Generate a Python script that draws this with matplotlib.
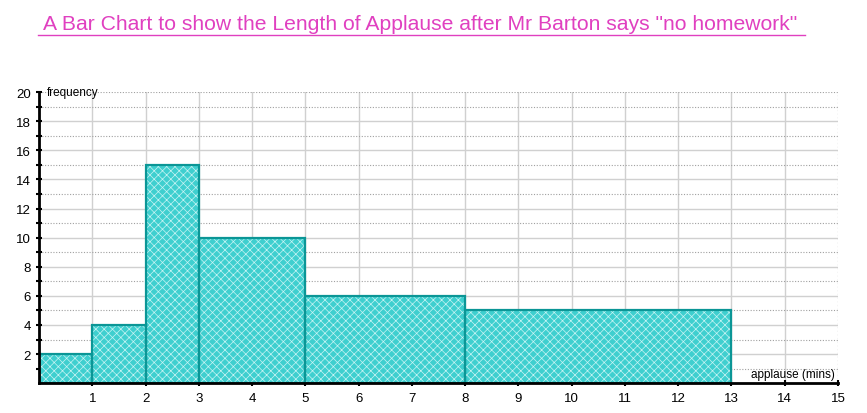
import matplotlib.pyplot as plt
from matplotlib.lines import Line2D
import matplotlib as mpl

plt.rcParams['font.family'] = ['Liberation Sans', 'DejaVu Sans']
mpl.rcParams['hatch.linewidth'] = 0.5

# class boundaries (mins) and frequency for each class
bin_edges = [0, 1, 2, 3, 5, 8, 13]
frequencies = [2, 4, 15, 10, 6, 5]
x_ticks = list(range(1, 16))
y_ticks = list(range(2, 21, 2))

title = 'A Bar Chart to show the Length of Applause after Mr Barton says "no homework"'

fig = plt.figure(figsize=(8.67, 4.14), dpi=100)
ax = fig.add_axes([0.045, 0.072, 0.9215, 0.703])

# grid: solid at whole numbers / even freq, dotted at odd freq
for x in range(1, 16):
    ax.axvline(x, color='#d0d0d0', lw=1, zorder=0,
               ls='-' if x < 15 else ':')
for y in range(1, 21):
    if y % 2 == 0 and y < 20:
        ax.axhline(y, color='#d0d0d0', lw=1, zorder=0)
    else:
        ax.axhline(y, color='#a0a0a0', lw=0.8, ls=(0, (1, 1.5)), zorder=0)

lefts = bin_edges[:-1]
widths = [b - a for a, b in zip(bin_edges[:-1], bin_edges[1:])]
# fill with a light cross pattern, then the outlines on top
ax.bar(lefts, frequencies, width=widths, align='edge', color='#3fcfcf',
       edgecolor='#c8f4f4', linewidth=0, hatch='xxxx', zorder=2)
ax.bar(lefts, frequencies, width=widths, align='edge', fill=False,
       edgecolor='#0b9696', linewidth=1.6, zorder=3)

ax.set_xlim(0, 15)
ax.set_ylim(0, 20)
ax.set_xticks(x_ticks)
ax.set_yticks(range(1, 21))
ax.set_yticklabels([str(y) if y % 2 == 0 else '' for y in range(1, 21)])
ax.tick_params(axis='both', labelsize=9.5, direction='inout', length=5,
               width=1.5, colors='black')
ax.tick_params(axis='x', pad=4)

for side in ['top', 'right']:
    ax.spines[side].set_visible(False)
for side in ['left', 'bottom']:
    ax.spines[side].set_linewidth(2)
    ax.spines[side].set_color('black')
    ax.spines[side].set_zorder(4)

ax.text(0.15, 20, 'frequency', fontsize=8.5, va='center', ha='left')
ax.text(14.95, 0.6, 'applause (mins)', fontsize=8.5, va='center', ha='right',
        zorder=3)

fig.text(0.485, 0.94, title, fontsize=15.2, color='#e040c0',
         ha='center', va='center')
fig.add_artist(Line2D([0.044, 0.928], [0.912, 0.912], color='#e040c0',
                      lw=1, transform=fig.transFigure))

fig.savefig('out.png', dpi=100)
